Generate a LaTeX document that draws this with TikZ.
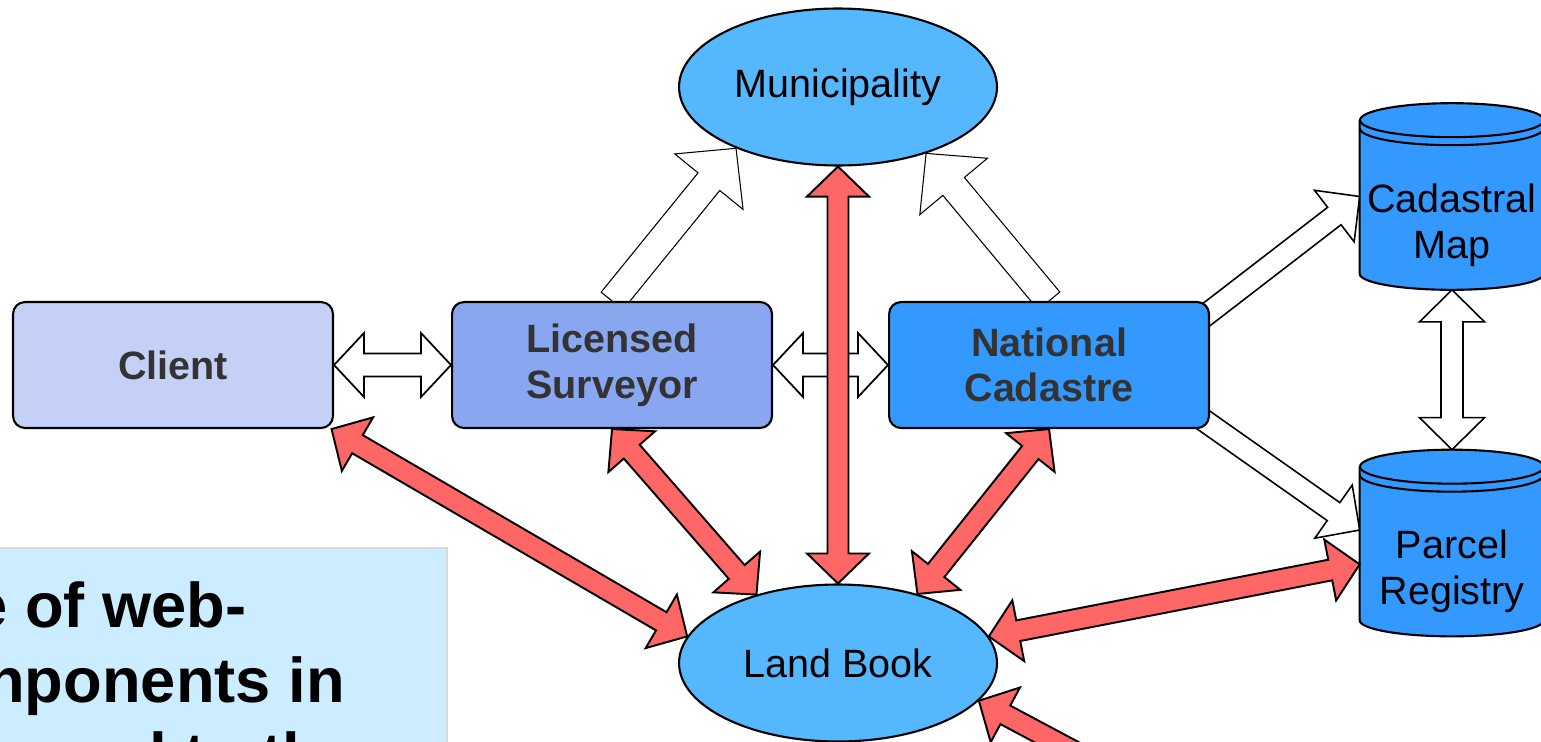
\documentclass[tikz,border=0pt]{standalone}
\usepackage{fontspec}
\setmainfont{Liberation Sans}
\usepackage{tikz}
\usetikzlibrary{positioning,calc,shapes.geometric,backgrounds}
\definecolor{clientblue}{RGB}{196,208,245}
\definecolor{surveyblue}{RGB}{137,166,240}
\definecolor{cadblue}{RGB}{51,153,255}
\definecolor{ovalblue}{RGB}{85,184,255}
\definecolor{linkred}{RGB}{255,102,102}
\definecolor{boxtext}{RGB}{51,51,51}
\definecolor{notebg}{RGB}{204,236,255}
\definecolor{noteedge}{RGB}{217,217,217}
\newcommand{\boxfont}{\fontsize{22.5}{26}\selectfont}
\newcommand{\notefont}{\fontsize{36}{42.5}\selectfont}
\newcommand{\arrW}{0.22cm}
\newcommand{\arrH}{0.64cm}
\newcommand{\arrL}{0.6cm}
% block arrow with a head at both ends
\newcommand{\twoway}[3][]{%
  \filldraw[#1] (#2)
    -- ($(#2)!\arrL!(#3)!\arrH!90:(#3)$)
    -- ($(#2)!\arrL!(#3)!\arrW!90:(#3)$)
    -- ($(#3)!\arrL!(#2)!\arrW!-90:(#2)$)
    -- ($(#3)!\arrL!(#2)!\arrH!-90:(#2)$)
    -- (#3)
    -- ($(#3)!\arrL!(#2)!\arrH!90:(#2)$)
    -- ($(#3)!\arrL!(#2)!\arrW!90:(#2)$)
    -- ($(#2)!\arrL!(#3)!\arrW!-90:(#3)$)
    -- ($(#2)!\arrL!(#3)!\arrH!-90:(#3)$)
    -- cycle;}
% block arrow with one head
\newcommand{\oneway}[3][]{%
  \filldraw[#1] ($(#2)!\arrW!90:(#3)$)
    -- ($(#3)!\arrL!(#2)!\arrW!-90:(#2)$)
    -- ($(#3)!\arrL!(#2)!\arrH!-90:(#2)$)
    -- (#3)
    -- ($(#3)!\arrL!(#2)!\arrH!90:(#2)$)
    -- ($(#3)!\arrL!(#2)!\arrW!90:(#2)$)
    -- ($(#2)!\arrW!-90:(#3)$)
    -- cycle;}

\begin{document}
\begin{tikzpicture}[
  x=0.02cm, y=-0.02cm,
  box/.style={rectangle, draw, line width=1.2pt, rounded corners=0.24cm,
              minimum width=6.4cm, minimum height=2.52cm, align=center,
              font=\boxfont\bfseries, text=boxtext},
  oval/.style={ellipse, draw, line width=1.2pt, fill=ovalblue,
               minimum width=6.36cm, minimum height=3.14cm, font=\boxfont},
  cylbody/.style={rectangle, inner sep=0pt, minimum width=3.68cm, minimum height=3.72cm},
  cylside/.style={draw=black, fill=cadblue, line width=1.2pt},
  cyltext/.style={align=center, font=\boxfont},
  notetext/.style={anchor=base west, inner sep=0pt, font=\notefont\bfseries},
  blkw/.store in=\arrW, blkh/.store in=\arrH, blkl/.store in=\arrL,
  redarrow/.style={fill=linkred, draw=black, line width=1.1pt, blkw=0.21cm, blkh=0.62cm, blkl=0.6cm},
  whitearrow/.style={fill=white, draw=black, line width=1pt, blkw=0.23cm, blkh=0.64cm, blkl=0.6cm},
  thinarrow/.style={fill=white, draw=black, line width=0.6pt, blkw=0.28cm, blkh=0.88cm, blkl=0.86cm},
  cadarrow/.style={fill=white, draw=black, line width=0.9pt, blkw=0.22cm, blkh=0.65cm, blkl=0.64cm}
]
\useasboundingbox (0,0) rectangle (1541,741);

% Note box
\draw[draw=noteedge, fill=notebg, line width=1.2pt] (-20,548) rectangle (447,800);
\node[notetext] (note1) at (-28,627) {e of web-};
\node[notetext] (note2) at (-14,702) {nponents in};
\node[notetext] (note3) at (54,777) {and to the};

% Nodes
\node[box, fill=clientblue] (client) at (173,365) {Client};
\node[box, fill=surveyblue, right=2.34cm of client] (surv) {Licensed\\Surveyor};
\node[box, fill=cadblue, right=2.30cm of surv] (nc) {National\\Cadastre};
\node[oval] (muni) at (838,87) {Municipality};
\node[oval] (land) at (838,663) {Land Book};
\node[cylbody] (cmap) at (1452,196.5) {};
\node[cylbody] (preg) at (1452,543) {};

% Cylinders
\foreach \cyl in {cmap,preg}{
  \filldraw[cylside] ($(\cyl.north west)+(0,17)$) -- ($(\cyl.south west)+(0,-16)$)
    arc[start angle=180, end angle=360, x radius=1.84cm, y radius=0.32cm]
    -- ($(\cyl.north east)+(0,17)$);
  \filldraw[cylside] ($(\cyl.north)+(0,17)$) ellipse[x radius=1.84cm, y radius=0.34cm];
  \draw[cylside, fill=none] ($(\cyl.north west)+(0,25)$)
    arc[start angle=180, end angle=360, x radius=1.84cm, y radius=0.34cm];
}
\node[cyltext] (cmaptext) at ($(cmap.center)+(0,29)$) {Cadastral\\Map};
\node[cyltext] (pregtext) at ($(preg.center)+(0,28)$) {Parcel\\Registry};

\coordinate (nc2map) at ($(nc.north east)+(-8,17)$);
\coordinate (nc2reg) at ($(nc.south east)+(-8,-10)$);
\coordinate (lbout) at (1330,888);

% White arrows
\begin{scope}[on background layer]
\twoway[whitearrow]{client.east}{surv.west}
\twoway[whitearrow]{surv.east}{nc.west}
\oneway[thinarrow]{surv.north}{muni.211}
\oneway[thinarrow]{nc.north}{muni.323}
\oneway[cadarrow]{nc2map}{cmap.west}
\oneway[cadarrow]{nc2reg}{preg.172}
\twoway[cadarrow]{cmap.south}{preg.north}
\end{scope}

% Red arrows
\twoway[redarrow]{client.-22}{land.170}
\twoway[redarrow]{surv.south}{land.140}
\twoway[redarrow]{land.north}{muni.south}
\twoway[redarrow]{nc.south}{land.41}
\twoway[redarrow]{preg.193}{land.10}
\oneway[redarrow]{lbout}{land.345}

\end{tikzpicture}
\end{document}
